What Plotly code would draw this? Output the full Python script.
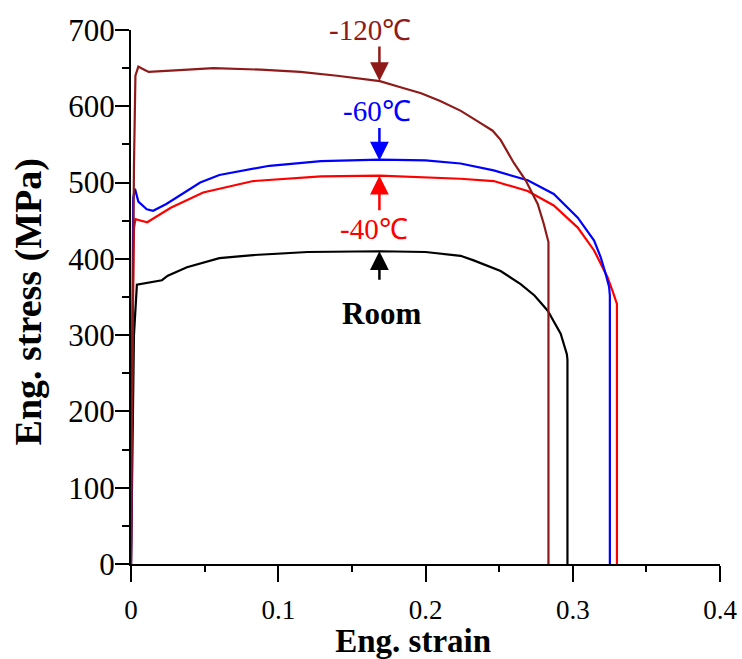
import plotly.graph_objects as go

# ---- data ----
room_strain = [0, 0.002, 0.004, 0.012, 0.021, 0.025, 0.038, 0.060, 0.083, 0.120, 0.169, 0.200,
               0.2238, 0.2327, 0.2463, 0.2510, 0.2646, 0.2740, 0.2830, 0.2918, 0.2960, 0.2964, 0.2964]
room_stress = [0, 300, 366, 369, 372, 378, 389, 401, 405, 409, 410, 409,
               404, 398, 388, 384, 367, 352, 332, 302, 275, 268, 0]

m40_strain = [0, 0.001, 0.002, 0.003, 0.007, 0.011, 0.027, 0.049, 0.083, 0.129, 0.169, 0.200,
              0.2238, 0.2463, 0.2694, 0.2871, 0.3034, 0.3145, 0.3190, 0.3236, 0.3270, 0.3300, 0.3300]
m40_stress = [0, 300, 440, 452, 450, 448, 467, 487, 502, 508, 509, 507,
              505, 502, 489, 470, 441, 411, 393, 376, 358, 341, 0]

m60_strain = [0, 0.001, 0.0015, 0.0027, 0.005, 0.0107, 0.015, 0.024, 0.047, 0.060, 0.094, 0.129,
              0.169, 0.200, 0.2238, 0.2463, 0.2694, 0.2871, 0.3034, 0.3145, 0.3190, 0.3224, 0.3247,
              0.3252, 0.3252]
m60_stress = [0, 300, 480, 492, 475, 465, 463, 472, 500, 510, 522, 528,
              530, 529, 525, 516, 503, 485, 454, 424, 402, 380, 363,
              352, 0]

m120_strain = [0, 0.001, 0.002, 0.003, 0.005, 0.008, 0.012, 0.030, 0.056, 0.088, 0.115, 0.140,
               0.169, 0.183, 0.197, 0.210, 0.224, 0.2374, 0.2456, 0.2510, 0.2599, 0.2680, 0.2762,
               0.2803, 0.2830, 0.2835, 0.2835]
m120_stress = [0, 300, 520, 640, 652, 649, 645, 647, 650, 648, 645, 640,
               633, 625, 617, 607, 594, 578, 568, 556, 526, 503, 472,
               446, 424, 422, 0]

series = [
    ("Room", room_strain, room_stress, "#000000"),
    ("-40℃", m40_strain, m40_stress, "#ff0000"),
    ("-60℃", m60_strain, m60_stress, "#0000ff"),
    ("-120℃", m120_strain, m120_stress, "#8f1a1a"),
]

# label text, color, arrow tip (strain, stress), arrow offset px, text position (strain, stress), font size
labels = [
    ("-120℃", "#8f1a1a", 0.1687, 633, -36, 0.162, 700, 29),
    ("-60℃", "#0000ff", 0.1687, 529, -34, 0.1673, 594, 29),
    ("-40℃", "#ff0000", 0.1687, 509, 36, 0.1653, 439, 29),
    ("<b>Room</b>", "#000000", 0.1687, 410, 30, 0.170, 328, 31),
]

x_ticks = [0, 0.1, 0.2, 0.3, 0.4]
x_ticktext = ["0", "0.1", "0.2", "0.3", "0.4"]
y_ticks = [0, 100, 200, 300, 400, 500, 600, 700]

fig = go.Figure()
for name, xs, ys, col in series:
    fig.add_trace(go.Scatter(x=xs, y=ys, mode="lines", name=name,
                             line=dict(color=col, width=2.2), showlegend=False))

serif = "Liberation Serif, Times New Roman, serif"
for text, col, tx, ty, ay, lx, ly, fs in labels:
    fig.add_annotation(x=tx, y=ty, xref="x", yref="y", text="", showarrow=True,
                       ax=0, ay=ay, axref="pixel", ayref="pixel",
                       arrowhead=2, arrowsize=1.5, arrowwidth=2.5, arrowcolor=col)
    fig.add_annotation(x=lx, y=ly, xref="x", yref="y", text=text, showarrow=False,
                       font=dict(family=serif, size=fs, color=col))

fig.update_layout(
    width=742, height=659,
    margin=dict(l=131, r=22, t=30, b=95),
    paper_bgcolor="white", plot_bgcolor="white",
    showlegend=False,
)
fig.update_xaxes(
    range=[0, 0.4], tickvals=x_ticks, ticktext=x_ticktext, automargin=False,
    ticklabeloverflow="allow",
    showline=True, linecolor="black", linewidth=2, mirror=False,
    ticks="outside", ticklen=16, tickwidth=2, tickcolor="black",
    minor=dict(dtick=0.05, ticks="outside", ticklen=6, tickwidth=2, tickcolor="black"),
    showgrid=False, zeroline=False, ticklabelstandoff=5,
    tickfont=dict(family=serif, size=27, color="black"),
    title=dict(text="<b>Eng. strain</b>" + "&nbsp;" * 3,
               font=dict(family=serif, size=33, color="black")),
)
fig.update_yaxes(
    range=[0, 700], tickvals=y_ticks, automargin=False,
    ticklabeloverflow="allow",
    showline=True, linecolor="black", linewidth=2, mirror=False,
    ticks="outside", ticklen=14, tickwidth=2, tickcolor="black",
    minor=dict(dtick=50, ticks="outside", ticklen=7, tickwidth=2, tickcolor="black"),
    showgrid=False, zeroline=False, ticklabelstandoff=-6,
    tickfont=dict(family=serif, size=31, color="black"),
    title=dict(text="<b>Eng. stress (MPa)</b>" + "&nbsp;",
               font=dict(family=serif, size=38, color="black")),
)

fig.write_html("out.html")
